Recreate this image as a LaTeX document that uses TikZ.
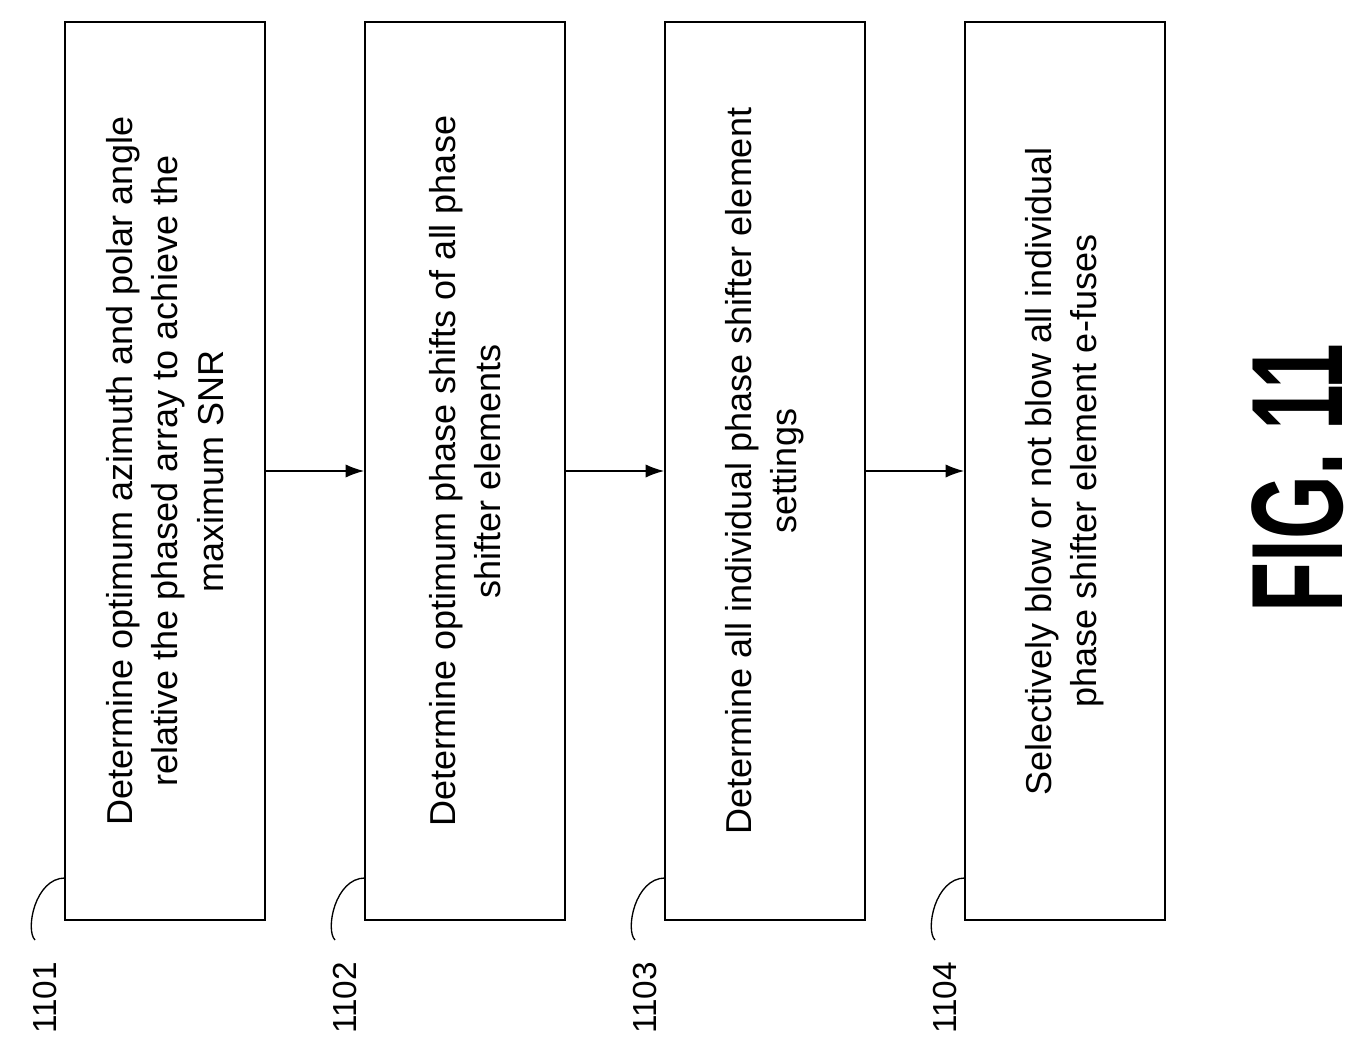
\documentclass[tikz,border=0pt]{standalone}
\usepackage{fontspec}
\setmainfont{Liberation Sans}
\usetikzlibrary{arrows.meta}
\begin{document}
\begin{tikzpicture}[x=0.75pt,y=-0.75pt,
  stepbox/.style={draw,line width=1.2pt,minimum width=898*0.75pt,minimum height=200*0.75pt,rotate=90,inner sep=0pt},
  steptext/.style={rotate=90,align=center,font=\fontsize{27}{34}\selectfont},
  reflabel/.style={rotate=90,font=\fontsize{25}{28}\selectfont},
  arr/.style={-{Latex[length=14pt,width=10pt]},line width=1.2pt}]
\useasboundingbox (0,0) rectangle (1365,1052);
\foreach \i/\x in {1/165,2/465,3/765,4/1065}{
  \node[stepbox] (b\i) at (\x,471) {};
  \coordinate (c\i) at (\x-100,878);
  \node[reflabel] (l\i) at (\x-120,998) {110\i};
  \draw[line width=1pt] (c\i) .. controls (\x-130,878) and (\x-140,930) .. (\x-130,940);
}
\node[steptext] (t1) at (b1) {Determine optimum azimuth and polar angle\\relative the phased array to achieve the\\maximum SNR};
\node[steptext] (t2) at (b2) {Determine optimum phase shifts of all phase\\shifter elements};
\node[steptext] (t3) at (b3) {Determine all individual phase shifter element\\settings};
\node[steptext] (t4) at (b4) {Selectively blow or not blow all individual\\phase shifter element e-fuses};
\draw[arr] (b1.south) -- (b2.north);
\draw[arr] (b2.south) -- (b3.north);
\draw[arr] (b3.south) -- (b4.north);
\node[rotate=90] (fig) at (1298,478) {\scalebox{0.75}[1.19]{\bfseries\fontsize{82}{90}\selectfont FIG. 11}};
\end{tikzpicture}
\end{document}
